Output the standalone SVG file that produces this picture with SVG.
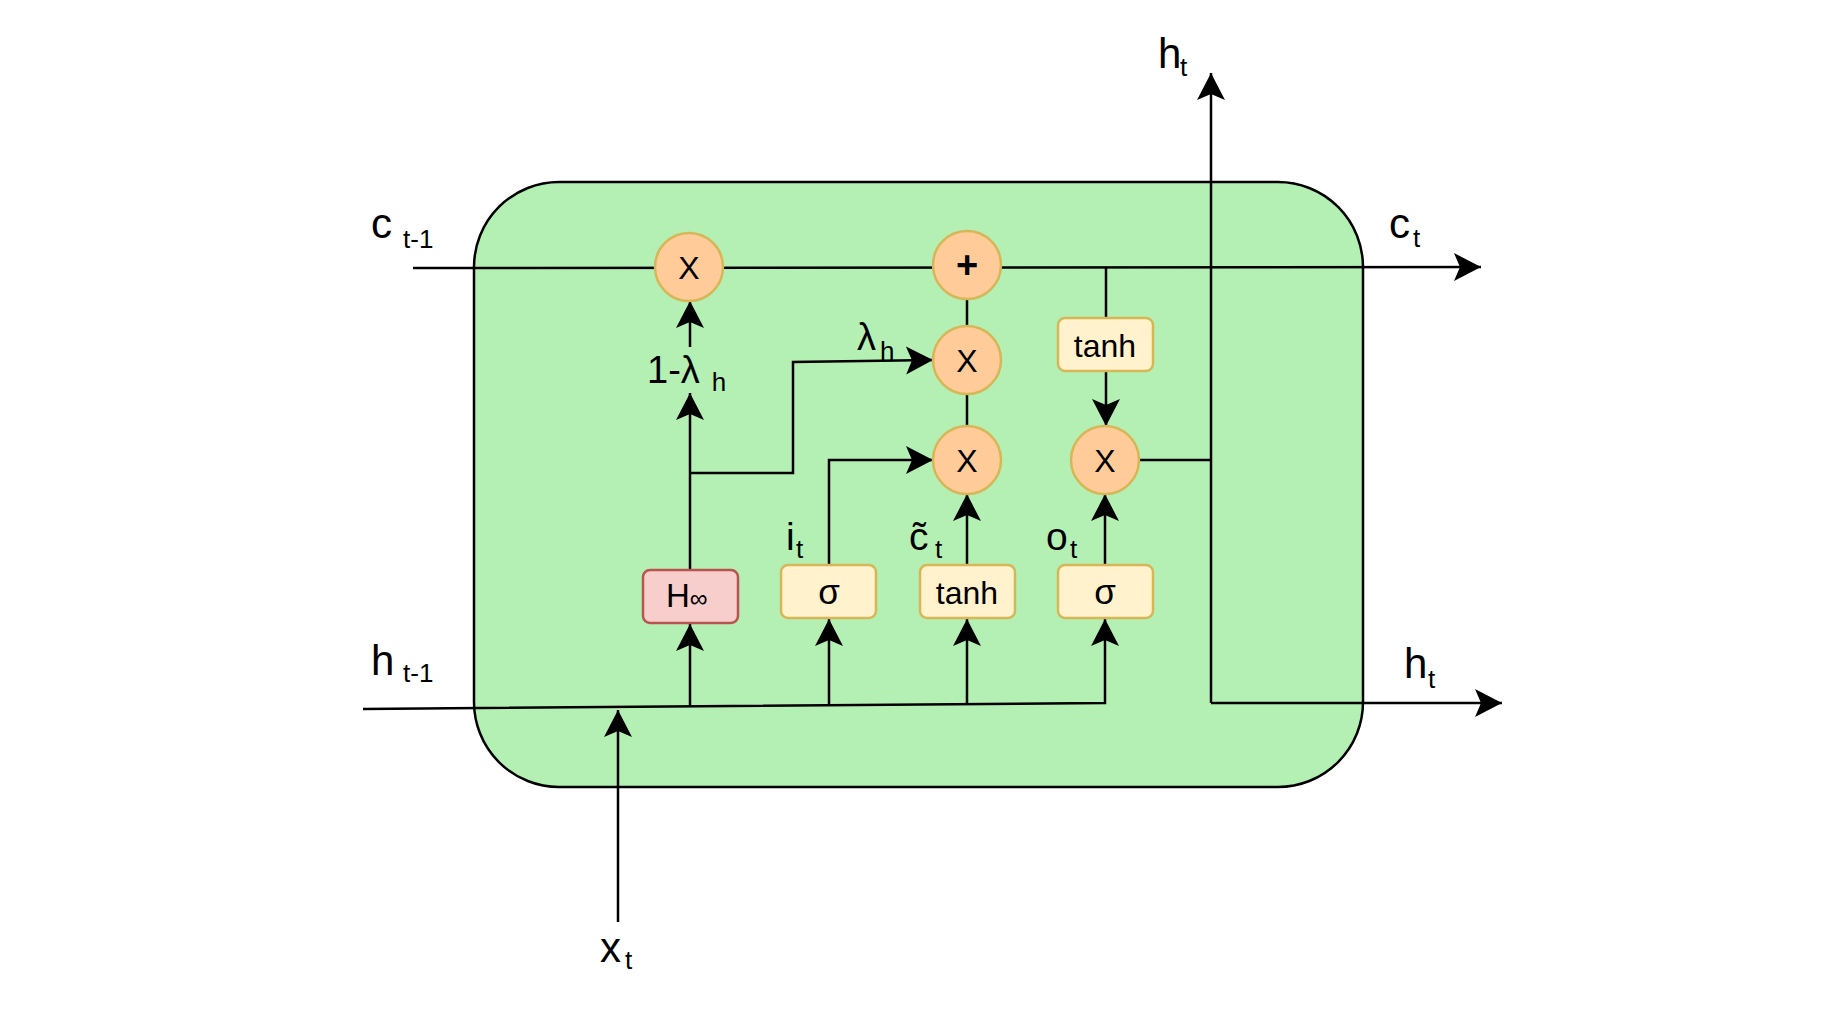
<svg xmlns="http://www.w3.org/2000/svg" width="1828" height="1016" viewBox="0 0 1828 1016">
<style>
.lbl{font-family:"Liberation Sans",Arial,sans-serif;fill:#000}
.big{font-size:42px}
.sub{font-size:26px}
.mid{font-size:39px}
.op{font-family:"Liberation Sans",Arial,sans-serif;font-size:32px;text-anchor:middle;fill:#000}
.circ{fill:#ffcc99;stroke:#d6b656;stroke-width:2.5}
.box{fill:#fff2cc;stroke:#d6b656;stroke-width:2.5}
.pbox{fill:#f8cecc;stroke:#b85450;stroke-width:2.5}
.ln{fill:none;stroke:#000;stroke-width:2.5}
.arr{fill:none;stroke:#000;stroke-width:2.5;marker-end:url(#ah)}
</style>
<defs>
<marker id="ah" viewBox="0 -15 28 30" markerWidth="28" markerHeight="30" refX="27" refY="0" orient="auto" markerUnits="userSpaceOnUse">
<path d="M0,-14 L27,0 L0,14 L6,0 Z" fill="#000"/>
</marker>
</defs>
<rect width="1828" height="1016" fill="#fff"/>
<g id="cell">
<rect x="474" y="182" width="889" height="605" rx="85" ry="85" fill="#b4f0b4" stroke="#000" stroke-width="2.5"/>
</g>
<g id="connectors">
<path class="arr" d="M413,268 L1481,267"/>
<path class="arr" d="M690,570 L690,393"/>
<path class="arr" d="M690,347 L690,301"/>
<path class="arr" d="M690,473 L793,473 L793,362 L933,360"/>
<path class="arr" d="M829,565 L829,460 L933,460"/>
<path class="arr" d="M967,565 L967,494"/>
<path class="arr" d="M1105,565 L1105,494"/>
<path class="arr" d="M363,709 L1105,703 L1105,619"/>
<path class="arr" d="M690,706 L690,624"/>
<path class="arr" d="M829,705 L829,619"/>
<path class="arr" d="M967,704 L967,619"/>
<path class="arr" d="M618,922 L618,710"/>
<path class="ln" d="M967,299 L967,326"/>
<path class="ln" d="M967,393 L967,427"/>
<path class="ln" d="M1106,267 L1106,318"/>
<path class="arr" d="M1106,371 L1106,426"/>
<path class="ln" d="M1139,460 L1211,460"/>
<path class="arr" d="M1211,703 L1211,73"/>
<path class="arr" d="M1211,703 L1502,703"/>
</g>
<g id="mul_forget">
<circle class="circ" cx="689" cy="267" r="34"/>
<text class="op" x="689" y="279">X</text>
</g>
<g id="add_cell">
<circle class="circ" cx="967" cy="265" r="34"/>
<text class="op" x="967" y="278" style="font-size:38px;font-weight:bold">+</text>
</g>
<g id="mul_lambda">
<circle class="circ" cx="967" cy="360" r="34"/>
<text class="op" x="967" y="372">X</text>
</g>
<g id="mul_input">
<circle class="circ" cx="967" cy="460" r="34"/>
<text class="op" x="967" y="472">X</text>
</g>
<g id="mul_output">
<circle class="circ" cx="1105" cy="460" r="34"/>
<text class="op" x="1105" y="472">X</text>
</g>
<g id="tanh_cell">
<rect class="box" x="1058" y="318" width="95" height="53" rx="7"/>
<text class="op" x="1105" y="357">tanh</text>
</g>
<g id="h_inf">
<rect class="pbox" x="643" y="570" width="95" height="53" rx="7"/>
<text class="lbl" x="666" y="607" style="font-size:33px">H<tspan style="font-size:25px">∞</tspan></text>
</g>
<g id="sigma_input">
<rect class="box" x="781" y="565" width="95" height="53" rx="7"/>
<text class="op" x="829" y="604" style="font-size:35px">σ</text>
</g>
<g id="tanh_candidate">
<rect class="box" x="920" y="565" width="95" height="53" rx="7"/>
<text class="op" x="967" y="604">tanh</text>
</g>
<g id="sigma_output">
<rect class="box" x="1058" y="565" width="95" height="53" rx="7"/>
<text class="op" x="1105" y="604" style="font-size:35px">σ</text>
</g>
<g id="labels">
<text class="lbl big" x="371" y="238">c</text><text class="lbl sub" x="403" y="248">t-1</text>
<text class="lbl big" x="371" y="675">h</text><text class="lbl sub" x="403" y="682">t-1</text>
<text class="lbl big" x="1158" y="68">h</text><text class="lbl sub" x="1180" y="76">t</text>
<text class="lbl big" x="1389" y="238">c</text><text class="lbl sub" x="1413" y="247">t</text>
<text class="lbl big" x="1404" y="678">h</text><text class="lbl sub" x="1428" y="688">t</text>
<text class="lbl big" x="600" y="962">x</text><text class="lbl sub" x="625" y="969">t</text>
<text class="lbl mid" x="786" y="550">i</text><text class="lbl sub" x="796" y="558">t</text>
<text class="lbl mid" x="909" y="550">c̃</text><text class="lbl sub" x="935" y="558">t</text>
<text class="lbl mid" x="1046" y="550">o</text><text class="lbl sub" x="1070" y="558">t</text>
<text class="lbl" x="857" y="350" style="font-size:38px">λ<tspan class="sub" dx="4" dy="10">h</tspan></text>
<text class="lbl" x="647" y="383" style="font-size:38px">1-λ<tspan class="sub" dx="12" dy="8">h</tspan></text>
</g>
</svg>
